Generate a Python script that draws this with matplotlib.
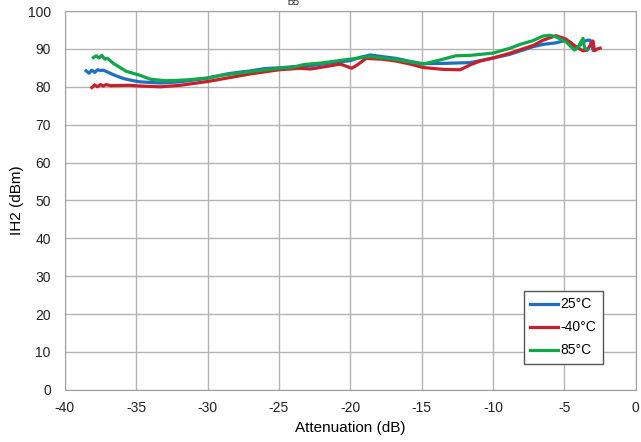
import matplotlib.pyplot as plt

plt.rcParams['font.family'] = ['Liberation Sans', 'DejaVu Sans']
plt.rcParams['axes.unicode_minus'] = False

# 25°C
x_25 = [-38.5, -38.3, -38.1, -37.9, -37.7, -37.5, -37.3, -37.0, -36.6, -35.9, -35.2, -34.7,
        -33.3, -32.0, -30.1, -28.5, -27.0, -26.0, -25.0, -24.0, -23.0, -22.0, -21.4, -20.0,
        -19.3, -18.6, -17.8, -16.8, -15.8, -14.9, -13.3, -11.6, -10.0, -8.8, -7.2, -6.5,
        -5.6, -4.9, -4.5, -4.2, -3.9, -3.7, -3.4, -3.2, -3.0]
y_25 = [84.2, 83.6, 84.4, 83.8, 84.5, 84.3, 84.4, 83.9, 83.2, 82.2, 81.6, 81.3,
        81.0, 81.3, 82.2, 83.5, 84.2, 84.8, 85.0, 85.3, 85.5, 86.0, 86.3, 86.9,
        87.8, 88.4, 88.0, 87.5, 86.7, 86.1, 86.2, 86.4, 87.6, 88.6, 90.6, 91.2,
        91.6, 92.3, 91.5, 90.2, 91.0, 91.9, 92.3, 92.3, 89.7]

# -40°C
x_m40 = [-38.1, -37.9, -37.7, -37.5, -37.3, -37.1, -36.8, -35.5, -34.7, -33.3, -31.9, -30.0,
         -29.1, -27.0, -25.0, -23.5, -22.8, -21.8, -20.7, -20.4, -19.9, -19.5, -18.9, -17.8,
         -16.8, -15.8, -14.9, -13.5, -12.3, -11.6, -10.9, -10.0, -8.8, -7.2, -6.5, -5.6,
         -4.9, -4.2, -3.7, -3.4, -3.2, -3.0, -2.9, -2.7, -2.5]
y_m40 = [79.8, 80.5, 80.0, 80.6, 80.2, 80.6, 80.3, 80.4, 80.2, 80.0, 80.4, 81.4,
         82.0, 83.4, 84.5, 84.9, 84.7, 85.3, 86.0, 85.6, 84.9, 85.8, 87.5, 87.3,
         86.8, 86.0, 85.1, 84.6, 84.5, 85.8, 86.8, 87.6, 88.9, 90.9, 92.3, 93.5,
         92.6, 90.6, 89.5, 89.7, 91.0, 92.1, 89.5, 90.0, 90.2]

# 85°C
x_85 = [-38.0, -37.8, -37.6, -37.4, -37.2, -37.0, -36.6, -35.7, -34.7, -34.0, -32.9, -31.5,
        -30.1, -29.1, -27.0, -25.0, -24.0, -23.2, -22.0, -20.0, -18.6, -16.8, -14.9, -13.7,
        -12.6, -11.6, -10.0, -8.8, -8.1, -7.2, -6.5, -6.0, -5.6, -4.9, -4.3, -4.1,
        -3.7, -3.6, -3.4]
y_85 = [87.7, 88.2, 87.6, 88.3, 87.3, 87.5, 86.2, 84.1, 83.0, 82.0, 81.6, 81.8,
        82.3, 83.0, 84.0, 84.9, 85.2, 85.9, 86.3, 87.3, 88.0, 87.2, 86.0, 87.1,
        88.2, 88.3, 88.9, 90.2, 91.2, 92.2, 93.4, 93.6, 93.2, 91.9, 89.7, 90.2,
        92.8, 90.3, 89.8]

x_ticks = [-40, -35, -30, -25, -20, -15, -10, -5, 0]
y_ticks = [0, 10, 20, 30, 40, 50, 60, 70, 80, 90, 100]

fig = plt.figure(figsize=(6.41, 4.42), dpi=100)
ax = fig.add_axes([0.101, 0.118, 0.891, 0.857])

ax.plot(x_25, y_25, color='#1f6fc0', lw=2.3, label='25°C', solid_joinstyle='round')
ax.plot(x_m40, y_m40, color='#c8202a', lw=2.3, label='-40°C', solid_joinstyle='round')
ax.plot(x_85, y_85, color='#10a64a', lw=2.3, label='85°C', solid_joinstyle='round')

ax.set_xlim(-40, 0)
ax.set_ylim(0, 100)
ax.set_xticks(x_ticks)
ax.set_yticks(y_ticks)
ax.tick_params(length=0, labelsize=10, colors='#222222')
ax.tick_params(axis='x', pad=8)
ax.tick_params(axis='y', pad=10)
ax.grid(True, color='#b4b4b4', lw=1.0)
ax.set_axisbelow(True)
for s in ax.spines.values():
    s.set_color('#a0a0a0')

ax.set_xlabel('Attenuation (dB)', fontsize=11, labelpad=4)
ax.set_ylabel('IH2 (dBm)', fontsize=11, labelpad=3)

leg = ax.legend(loc='lower right', bbox_to_anchor=(0.942, 0.069), fontsize=10,
                handlelength=2.0, handletextpad=0.2, fancybox=False,
                edgecolor='#555555', framealpha=1, borderpad=0.45, labelspacing=0.65,
                borderaxespad=0)
leg.get_frame().set_linewidth(1.0)

# fragment of the original title (mostly clipped in the source)
fig.text(293 / 641, 0.999, 'DD', fontsize=6, ha='center', va='top')

fig.savefig('out.png', dpi=100)
